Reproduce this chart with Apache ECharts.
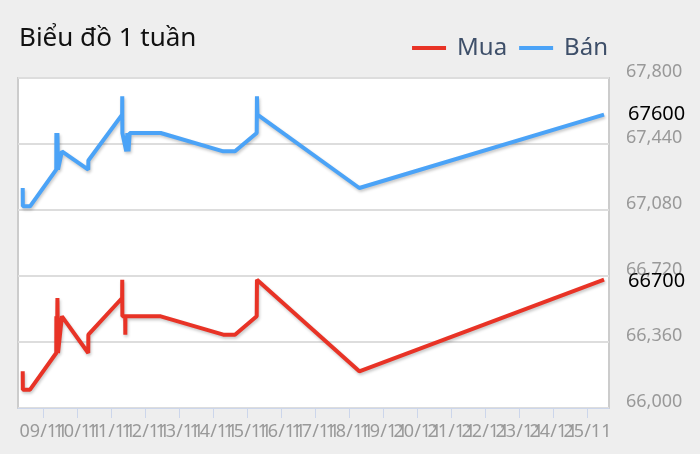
<!DOCTYPE html>
<html>
<head>
<meta charset="utf-8">
<style>
  html, body { margin: 0; padding: 0; background: #eeeeee; }
  #gia_chart { width: 700px; height: 454px; }
</style>
<script src="https://cdn.jsdelivr.net/npm/echarts@6/dist/echarts.min.js"></script>
</head>
<body>
<div id="gia_chart"></div>
<script>
   // ngày trên trục x
   var dayTicks = ['2024-11-09', '2024-11-10', '2024-11-11', '2024-11-12', '2024-11-13', '2024-11-14',
                   '2024-11-15', '2024-11-16', '2024-11-17', '2024-11-18', '2024-11-19', '2024-11-20',
                   '2024-11-21', '2024-11-22', '2024-11-23', '2024-11-24', '2024-11-25'];
   var dayLabels = ['09/11', '10/11', '11/11', '12/11', '13/11', '14/11', '15/11', '16/11', '17/11',
                    '18/11', '19/11', '20/11', '21/11', '22/11', '23/11', '24/11', '25/11'];
   var xRange = ['2024-11-08 06:00', '2024-11-25 15:10'];

   // giá Bán
   var banTimes = ['2024-11-08 09:20', '2024-11-08 09:25', '2024-11-08 14:30',
                   '2024-11-09 09:00', '2024-11-09 09:05', '2024-11-09 09:35', '2024-11-09 09:50', '2024-11-09 10:15', '2024-11-09 13:00',
                   '2024-11-10 07:35', '2024-11-10 07:40',
                   '2024-11-11 07:30', '2024-11-11 07:35', '2024-11-11 07:40', '2024-11-11 10:25', '2024-11-11 11:10', '2024-11-11 12:00', '2024-11-11 12:50',
                   '2024-11-12 10:45', '2024-11-14 06:55', '2024-11-14 15:10',
                   '2024-11-15 06:30', '2024-11-15 06:40', '2024-11-15 07:00',
                   '2024-11-18 06:55', '2024-11-25 11:40'];
   var banValues = [67200, 67100, 67100,
                    67300, 67500, 67300, 67500, 67300, 67400,
                    67300, 67350,
                    67600, 67700, 67500, 67400, 67500, 67400, 67500,
                    67500, 67400, 67400,
                    67500, 67700, 67600,
                    67200, 67600];

   // giá Mua
   var muaTimes = ['2024-11-08 09:20', '2024-11-08 09:25', '2024-11-08 14:30',
                   '2024-11-09 09:00', '2024-11-09 09:05', '2024-11-09 09:30', '2024-11-09 09:50', '2024-11-09 10:15', '2024-11-09 13:00',
                   '2024-11-10 07:35', '2024-11-10 07:40',
                   '2024-11-11 07:30', '2024-11-11 07:35', '2024-11-11 07:40', '2024-11-11 09:40', '2024-11-11 09:45', '2024-11-11 09:50',
                   '2024-11-12 10:45', '2024-11-14 06:55', '2024-11-14 15:10',
                   '2024-11-15 06:30', '2024-11-15 06:40',
                   '2024-11-18 06:55', '2024-11-25 11:40'];
   var muaValues = [66200, 66100, 66100,
                    66300, 66500, 66300, 66600, 66300, 66500,
                    66300, 66400,
                    66600, 66700, 66500, 66500, 66400, 66500,
                    66500, 66400, 66400,
                    66500, 66700,
                    66200, 66700];

   var yTicks = { min: 66000, max: 67800, step: 360 };

   // 'yyyy-MM-dd HH:mm' -> ms (giờ địa phương)
   function toMs(s){
      var parts = s.split(' ');
      var d = parts[0].split('-');
      var t = (parts[1] || '00:00').split(':');
      return new Date(+d[0], +d[1] - 1, +d[2], +t[0], +t[1]).getTime();
   }

   function zip(times, values){
      var arr = [];
      for (var i = 0; i < times.length; i++) {
         arr.push([toMs(times[i]), values[i]]);
      }
      return arr;
   }

   var tickValues = dayTicks.map(toMs);
   // nhãn chồng lên nhau -> chia 2 trục (chẵn / lẻ) để echarts không tự ẩn
   var evenTicks = tickValues.filter(function(v, i){ return i % 2 === 0; });
   var oddTicks = tickValues.filter(function(v, i){ return i % 2 === 1; });

   function dayFormatter(v){
      var i = tickValues.indexOf(v);
      return i >= 0 ? dayLabels[i] : '';
   }

   function dayLabel(values){
      return {
         customValues: values,
         showMinLabel: true,
         showMaxLabel: true,
         margin: 15,
         color: '#999999',
         fontSize: 18,
         fontFamily: 'Noto Sans',
         hideOverlap: false,
         formatter: dayFormatter
      };
   }

   var lineShadow = {
      shadowColor: 'rgba(0,0,0,0.22)',
      shadowBlur: 3,
      shadowOffsetX: 1,
      shadowOffsetY: 2
   };

   var giaChart = echarts.init(document.getElementById('gia_chart'));
   var gia_option = {
      backgroundColor: '#eeeeee',
      animation: false,
      textStyle: { fontFamily: 'Noto Sans' },
      title: {
         text: 'Biểu đồ 1 tuần',
         left: 14,
         top: 21,
         textStyle: { fontFamily: 'Noto Sans', fontSize: 26, fontWeight: 'normal', color: '#111111' }
      },
      legend: {
         right: 87,
         top: 31,
         icon: 'rect',
         itemWidth: 34,
         itemHeight: 4,
         itemGap: 12,
         data: ['Mua', 'Bán'],
         textStyle: { fontFamily: 'Noto Sans', fontSize: 24, color: '#3e4f69', padding: [0, 0, 0, 6] }
      },
      grid: {
         left: 18,
         right: 91,
         top: 78,
         bottom: 46,
         show: true,
         backgroundColor: '#ffffff',
         borderColor: '#cccccc',
         borderWidth: 2
      },
      xAxis: [
         {
            type: 'value',
            position: 'bottom',
            min: toMs(xRange[0]),
            max: toMs(xRange[1]),
            axisLine: { show: true, lineStyle: { color: '#ccd6eb', width: 1 } },
            axisTick: { show: true, length: 10, customValues: tickValues, lineStyle: { color: '#ccd6eb', width: 1 } },
            axisLabel: dayLabel(evenTicks),
            splitLine: { show: false }
         },
         {
            type: 'value',
            position: 'bottom',
            min: toMs(xRange[0]),
            max: toMs(xRange[1]),
            axisLine: { show: false },
            axisTick: { show: false },
            axisLabel: dayLabel(oddTicks),
            splitLine: { show: false }
         }
      ],
      yAxis: {
         type: 'value',
         position: 'right',
         min: yTicks.min,
         max: yTicks.max,
         interval: yTicks.step,
         axisLine: { show: false },
         axisTick: { show: false },
         axisLabel: {
            margin: 17,
            color: '#999999',
            fontSize: 18,
            fontFamily: 'Noto Sans',
            verticalAlign: 'bottom',
            lineHeight: 12,
            formatter: function(v){ return echarts.format.addCommas(v); }
         },
         splitLine: { lineStyle: { color: '#dddddd', width: 2 } }
      },
      series: [
         {
            name: 'Mua',
            type: 'line',
            color: '#e83326',
            showSymbol: false,
            data: zip(muaTimes, muaValues),
            lineStyle: Object.assign({ width: 4, color: '#e83326' }, lineShadow),
            endLabel: {
               show: true,
               distance: 24,
               offset: [0, 2],
               color: '#000000',
               fontSize: 20,
               fontFamily: 'Noto Sans',
               formatter: function(p){ return String(p.value[1]); }
            }
         },
         {
            name: 'Bán',
            type: 'line',
            color: '#4ba3f7',
            showSymbol: false,
            data: zip(banTimes, banValues),
            lineStyle: Object.assign({ width: 4, color: '#4ba3f7' }, lineShadow),
            endLabel: {
               show: true,
               distance: 24,
               color: '#000000',
               fontSize: 20,
               fontFamily: 'Noto Sans',
               formatter: function(p){ return String(p.value[1]); }
            }
         }
      ]
   };
   giaChart.setOption(gia_option);
</script>
</body>
</html>
